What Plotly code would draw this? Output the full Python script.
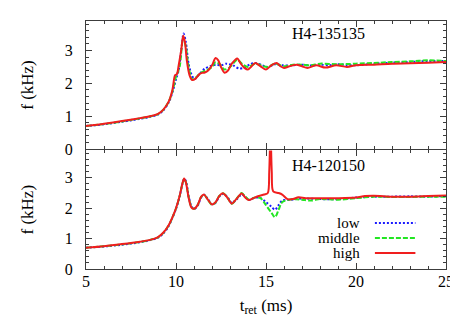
import plotly.graph_objects as go

# ---------------- data: H4-135135 (top panel) ----------------
t_top_low = [5, 5.5, 6, 6.5, 7, 7.5, 8, 8.5, 9, 9.3, 9.6, 9.8, 10.0, 10.15, 10.3, 10.42, 10.55, 10.7, 10.9,
             11.05, 11.3, 11.6, 11.9, 12.2, 12.5, 12.8, 13.2, 13.5, 13.8, 14.1, 14.4, 14.8, 15.1, 15.5, 15.9,
             16.5, 17, 17.5, 18, 18.5, 19, 19.5, 20, 21, 22, 23, 24, 25]
f_top_low = [0.70, 0.72, 0.75, 0.79, 0.83, 0.87, 0.92, 0.97, 1.05, 1.18, 1.42, 1.72, 2.12, 2.40, 3.05, 3.52, 3.25,
             2.60, 2.22, 2.13, 2.28, 2.45, 2.52, 2.57, 2.55, 2.60, 2.54, 2.45, 2.48, 2.58, 2.62, 2.55, 2.50, 2.58,
             2.55, 2.55, 2.57, 2.54, 2.57, 2.55, 2.58, 2.56, 2.55, 2.60, 2.63, 2.65, 2.68, 2.68]

t_top_mid = [5, 6, 7, 8, 8.5, 9, 9.3, 9.6, 9.8, 10.0, 10.2, 10.4, 10.55, 10.7, 10.9, 11.1, 11.4, 11.7, 12.0,
             12.2, 12.4, 12.7, 13.0, 13.4, 13.7, 14.0, 14.4, 14.8, 15.1, 15.5, 16.0, 16.5, 17.0, 17.5, 18.0,
             19.0, 20.0, 21, 22, 23, 24, 25]
f_top_mid = [0.70, 0.76, 0.84, 0.93, 0.98, 1.06, 1.20, 1.45, 1.75, 2.20, 2.50, 3.40, 3.10, 2.50, 2.12, 2.18, 2.33,
             2.40, 2.50, 2.65, 2.60, 2.42, 2.50, 2.72, 2.58, 2.50, 2.60, 2.53, 2.50, 2.60, 2.52, 2.57, 2.57, 2.55,
             2.60, 2.58, 2.60, 2.62, 2.65, 2.67, 2.70, 2.68]

t_top_high = [5, 6, 7, 8, 8.5, 9, 9.3, 9.6, 9.8, 9.95, 10.05, 10.15, 10.3, 10.4, 10.5, 10.6, 10.75, 10.9, 11.1,
              11.3, 11.45, 11.6, 11.8, 12.0, 12.2, 12.35, 12.5, 12.7, 12.9, 13.1, 13.4, 13.6, 13.8, 14.0, 14.2,
              14.4, 14.7, 15.0, 15.3, 15.6, 15.8, 16.0, 16.3, 16.7, 17.0, 17.3, 17.8, 18.3, 18.9, 19.5, 20.0,
              21, 22, 23, 24, 25]
f_top_high = [0.70, 0.77, 0.85, 0.94, 0.99, 1.07, 1.20, 1.45, 1.80, 2.25, 2.28, 2.55, 3.05, 3.45, 3.25, 2.70,
              2.25, 2.10, 2.15, 2.28, 2.32, 2.33, 2.40, 2.55, 2.77, 2.70, 2.50, 2.32, 2.40, 2.60, 2.76, 2.60,
              2.47, 2.42, 2.52, 2.62, 2.52, 2.42, 2.55, 2.62, 2.52, 2.47, 2.52, 2.57, 2.52, 2.47, 2.55, 2.48,
              2.55, 2.50, 2.55, 2.57, 2.60, 2.61, 2.63, 2.65]

# ---------------- data: H4-120150 (bottom panel) ----------------
t_bot_low = [5, 6, 7, 8, 8.5, 9, 9.3, 9.6, 9.8, 10.0, 10.2, 10.35, 10.47, 10.57, 10.7, 10.87, 11.02, 11.2, 11.4,
             11.58, 11.75, 12.0, 12.2, 12.4, 12.62, 12.85, 13.1, 13.35, 13.65, 13.85, 14.05, 14.4, 14.7, 15.0,
             15.3, 15.5, 15.7, 15.9, 16.3, 16.7, 17, 18, 19, 20, 21, 22, 23, 24, 25]
f_bot_low = [0.70, 0.74, 0.80, 0.88, 0.94, 1.03, 1.17, 1.42, 1.68, 1.98, 2.38, 2.78, 2.97, 2.85, 2.40, 2.05, 1.98,
             2.08, 2.35, 2.44, 2.32, 2.13, 2.18, 2.38, 2.47, 2.37, 2.17, 2.28, 2.45, 2.37, 2.27, 2.35, 2.33, 2.20,
             2.05, 1.95, 2.10, 2.25, 2.27, 2.30, 2.32, 2.30, 2.30, 2.35, 2.38, 2.38, 2.39, 2.38, 2.40]

t_bot_mid = [5, 6, 7, 8, 8.5, 9, 9.3, 9.6, 9.8, 10.0, 10.2, 10.35, 10.45, 10.55, 10.7, 10.85, 11.0, 11.2, 11.4,
             11.57, 11.75, 12.0, 12.2, 12.4, 12.62, 12.85, 13.1, 13.35, 13.65, 13.85, 14.05, 14.4, 14.7, 15.0,
             15.3, 15.5, 15.7, 15.9, 16.2, 16.5, 17, 17.5, 18, 19, 20, 21, 22, 23, 24, 25]
f_bot_mid = [0.70, 0.75, 0.81, 0.89, 0.95, 1.04, 1.19, 1.44, 1.69, 1.99, 2.39, 2.79, 2.96, 2.86, 2.38, 2.05, 1.97,
             2.10, 2.37, 2.44, 2.30, 2.11, 2.19, 2.40, 2.49, 2.36, 2.15, 2.30, 2.50, 2.38, 2.28, 2.35, 2.33, 2.10,
             1.85, 1.70, 1.95, 2.20, 2.27, 2.30, 2.28, 2.25, 2.30, 2.28, 2.33, 2.38, 2.37, 2.37, 2.38, 2.38]

t_bot_high = [5, 6, 7, 8, 8.5, 9, 9.3, 9.6, 9.8, 10.0, 10.2, 10.35, 10.45, 10.55, 10.7, 10.85, 11.0, 11.2, 11.4,
              11.55, 11.75, 12.0, 12.2, 12.4, 12.6, 12.85, 13.1, 13.35, 13.65, 13.85, 14.05, 14.3, 14.6, 14.9,
              15.1, 15.18, 15.25, 15.32, 15.4, 15.7, 15.9, 16.2, 16.5, 16.8, 17.2, 18, 19, 20, 20.5, 21, 22, 23,
              24, 25]
f_bot_high = [0.70, 0.75, 0.82, 0.90, 0.95, 1.05, 1.20, 1.45, 1.70, 2.00, 2.40, 2.80, 2.98, 2.85, 2.35, 2.03,
              1.98, 2.10, 2.38, 2.45, 2.30, 2.12, 2.20, 2.40, 2.49, 2.35, 2.15, 2.30, 2.48, 2.35, 2.27, 2.33,
              2.40, 2.45, 2.50, 3.20, 4.50, 3.20, 2.55, 2.50, 2.45, 2.30, 2.30, 2.36, 2.33, 2.33, 2.33, 2.35,
              2.40, 2.41, 2.38, 2.38, 2.40, 2.42]

labels = ["low", "middle", "high"]
panel_titles = ["H4-135135", "H4-120150"]
x_ticks = [5, 10, 15, 20, 25]
y_ticks = [0, 1, 2, 3]

colors = {"low": "#1a1aff", "middle": "#22e622", "high": "#f01e1e"}
dashes = {"low": "2px,2px", "middle": "5px,2px", "high": "solid"}

FONT = "Liberation Serif, Times New Roman, serif"
AX = "#3c3c3c"

fig = go.Figure()

top = [(t_top_low, f_top_low), (t_top_mid, f_top_mid), (t_top_high, f_top_high)]
bot = [(t_bot_low, f_bot_low), (t_bot_mid, f_bot_mid), (t_bot_high, f_bot_high)]

for name, (tt, ff) in zip(labels, top):
    fig.add_trace(go.Scatter(x=tt, y=ff, mode="lines", xaxis="x2", yaxis="y2", showlegend=False,
                             line=dict(color=colors[name], width=2, dash=dashes[name],
                                       shape="spline", smoothing=0.8)))
for name, (tt, ff) in zip(labels, bot):
    fig.add_trace(go.Scatter(x=tt, y=ff, mode="lines", xaxis="x", yaxis="y", showlegend=False,
                             line=dict(color=colors[name], width=2, dash=dashes[name],
                                       shape="spline", smoothing=0.8)))

common = dict(showline=True, linecolor=AX, linewidth=1, mirror="allticks", ticks="inside",
              ticklen=6, tickwidth=1, tickcolor=AX, showgrid=False, zeroline=False, automargin=False,
              tickfont=dict(family=FONT, size=16, color="black"))

# the page body adds an 8px offset, so the figure is 8px smaller and its margins shifted
fig.update_layout(
    width=450, height=313, autosize=False,
    margin=dict(l=78, r=12, t=13, b=52),
    plot_bgcolor="white", paper_bgcolor="white",
    font=dict(family=FONT, size=16, color="black"),
    xaxis=dict(range=[5, 25], tickvals=x_ticks, anchor="y", ticklabelstandoff=-2,
               minor=dict(ticks="inside", ticklen=3, dtick=1, tickcolor=AX),
               title=dict(text="t<sub>ret</sub> (ms)", font=dict(family=FONT, size=17), standoff=9),
               **common),
    xaxis2=dict(range=[5, 25], tickvals=x_ticks, anchor="y2", matches="x", showticklabels=False,
                minor=dict(ticks="inside", ticklen=3, dtick=1, tickcolor=AX), **common),
    yaxis=dict(range=[0, 3.9], tickvals=y_ticks, domain=[0, 0.478], anchor="x", ticklabelstandoff=9,
               minor=dict(ticks="inside", ticklen=3, dtick=0.2, tickcolor=AX),
               title=dict(text="f (kHz)", font=dict(family=FONT, size=17), standoff=26), **common),
    yaxis2=dict(range=[0, 3.9], tickvals=y_ticks, domain=[0.484, 1], anchor="x2", ticklabelstandoff=9,
                minor=dict(ticks="inside", ticklen=3, dtick=0.2, tickcolor=AX),
                title=dict(text="f (kHz)", font=dict(family=FONT, size=17), standoff=26), **common),
)

# panel labels
fig.add_annotation(text=panel_titles[0], x=18.45, y=3.53, xref="x2", yref="y2", showarrow=False,
                   font=dict(family=FONT, size=16, color="black"))
fig.add_annotation(text=panel_titles[1], x=18.45, y=3.42, xref="x", yref="y", showarrow=False,
                   font=dict(family=FONT, size=16, color="black"))

# legend (bottom panel)
leg_y = [1.51, 1.02, 0.53]
for name, yy in zip(labels, leg_y):
    fig.add_annotation(text=name, x=20.35, y=yy, xref="x", yref="y", xanchor="right", showarrow=False,
                       font=dict(family=FONT, size=15, color="black"))
    fig.add_shape(type="line", x0=21.05, x1=23.3, y0=yy, y1=yy, xref="x", yref="y",
                  line=dict(color=colors[name], width=2, dash=dashes[name]))

fig.write_html("out.html")
